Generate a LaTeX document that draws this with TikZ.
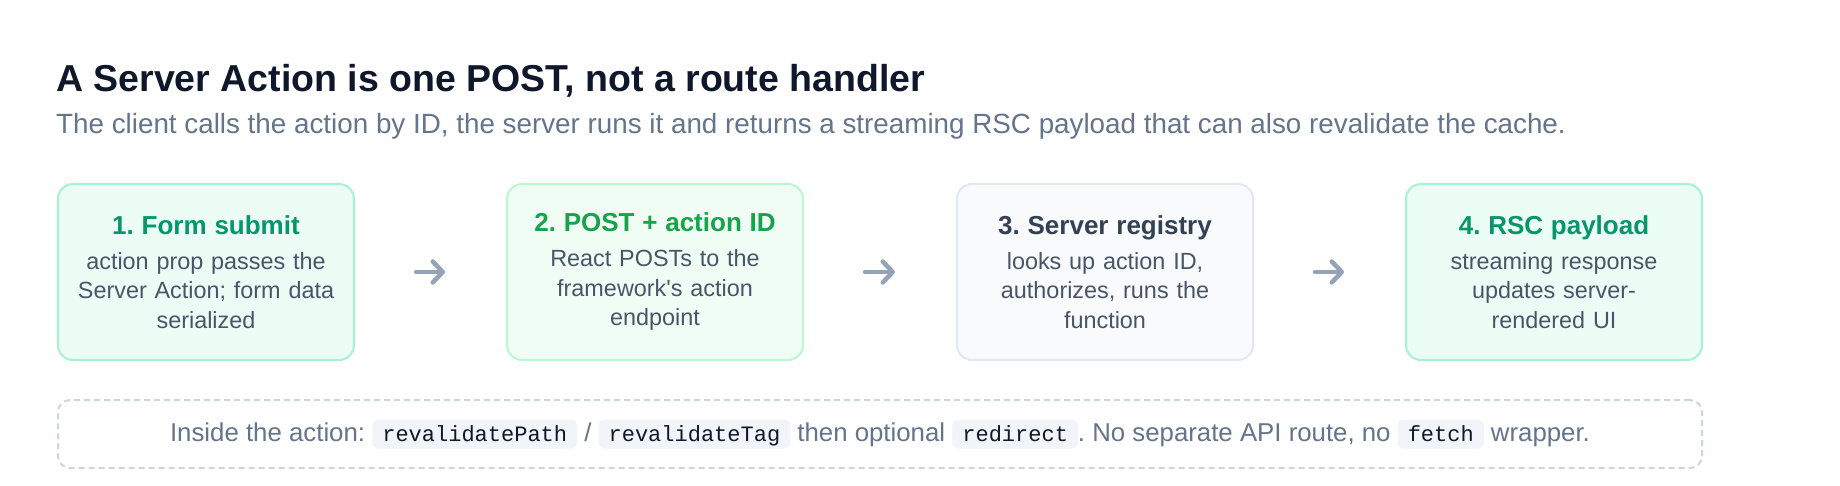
\documentclass[tikz,border=0pt]{standalone}
\usepackage{fontspec}
\setmainfont{Liberation Sans}
\setmonofont{Liberation Mono}
\usetikzlibrary{arrows.meta}
\frenchspacing

\definecolor{ink}{HTML}{0F172A}
\definecolor{muted}{HTML}{64748B}
\definecolor{bodyink}{HTML}{475569}
\definecolor{mintfill}{HTML}{ECFDF5}
\definecolor{mintline}{HTML}{A7F3D0}
\definecolor{mintink}{HTML}{059669}
\definecolor{leaffill}{HTML}{F0FDF4}
\definecolor{leafline}{HTML}{BBF7D0}
\definecolor{leafink}{HTML}{16A34A}
\definecolor{slatefill}{HTML}{F8FAFC}
\definecolor{slateline}{HTML}{E2E8F0}
\definecolor{slateink}{HTML}{334155}
\definecolor{arrowgray}{HTML}{94A3B8}
\definecolor{dashgray}{HTML}{CBD5E1}
\definecolor{chipfill}{HTML}{F1F5F9}

\tikzset{
	stepbox/.style={draw=#1line, fill=#1fill, line width=2pt, rounded corners=15pt, minimum width=296pt, minimum height=176pt, text width=282pt, align=center, text=bodyink, font=\fontsize{23.4}{29.5}\selectfont},
	flowarrow/.style={draw=arrowgray, line width=4.5pt, line cap=round, shorten <=61pt, shorten >=61pt, -{Straight Barb[length=10pt,width=21pt,line cap=round,line join=round]}},
	notebox/.style={draw=dashgray, line width=2pt, dash pattern=on 6pt off 4pt, rounded corners=12pt, minimum width=1644pt, minimum height=68pt, text=muted, font=\fontsize{25.8}{30}\selectfont},
	codechip/.style={draw=none, solid, minimum width=0pt, minimum height=0pt, fill=chipfill, rounded corners=6pt, inner xsep=10pt, inner ysep=7pt, text height=15pt, text depth=0pt, text=ink, font=\ttfamily\fontsize{22}{26}\selectfont}
}
\newcommand{\steptitle}[2]{{\fontsize{26}{30}\selectfont\bfseries\color{#1}#2}\\[5.5pt]}
\newcommand{\codechip}[1]{\tikz[baseline=(chip.base)]\node[codechip] (chip) {#1};}

\begin{document}
\begin{tikzpicture}[x=1pt, y=-1pt]
				\useasboundingbox (0,0) rectangle (1840,486);
				\fill[white] (0,0) rectangle (1840,486);
				\node[anchor=base west, inner sep=0pt, text=ink, font=\fontsize{37.5}{44}\selectfont\bfseries] (title)at(56, 92) {A Server Action is one POST, not a route handler};
				\node[anchor=base west, inner sep=0pt, text=muted, font=\fontsize{27.8}{33}\selectfont] (subtitle)at(56, 134) {The client calls the action by ID, the server runs it and returns a streaming RSC payload that can also revalidate the cache.};
				\node[stepbox=mint] (s1)at(206, 272) {\steptitle{mintink}{1. Form submit}action prop passes the\\Server Action; form data\\serialized};
				\node[stepbox=leaf] (s2)at(655, 272) {\steptitle{leafink}{2. POST + action ID}React POSTs to the\\framework\textquotesingle s action\\endpoint};
				\node[stepbox=slate] (s3)at(1105, 272) {\steptitle{slateink}{3. Server registry}looks up action ID,\\authorizes, runs the\\function};
				\node[stepbox=mint] (s4)at(1554, 272) {\steptitle{mintink}{4. RSC payload}streaming response\\updates server-\\rendered UI};
				\draw (s1) edge[flowarrow] (s2);
				\draw (s2) edge[flowarrow] (s3);
				\draw (s3) edge[flowarrow] (s4);
				\node[notebox] (note)at(880, 434) {Inside the action: \codechip{revalidatePath} / \codechip{revalidateTag} then optional \codechip{redirect}. No separate API route, no \codechip{fetch} wrapper.};
			\end{tikzpicture}
\end{document}
